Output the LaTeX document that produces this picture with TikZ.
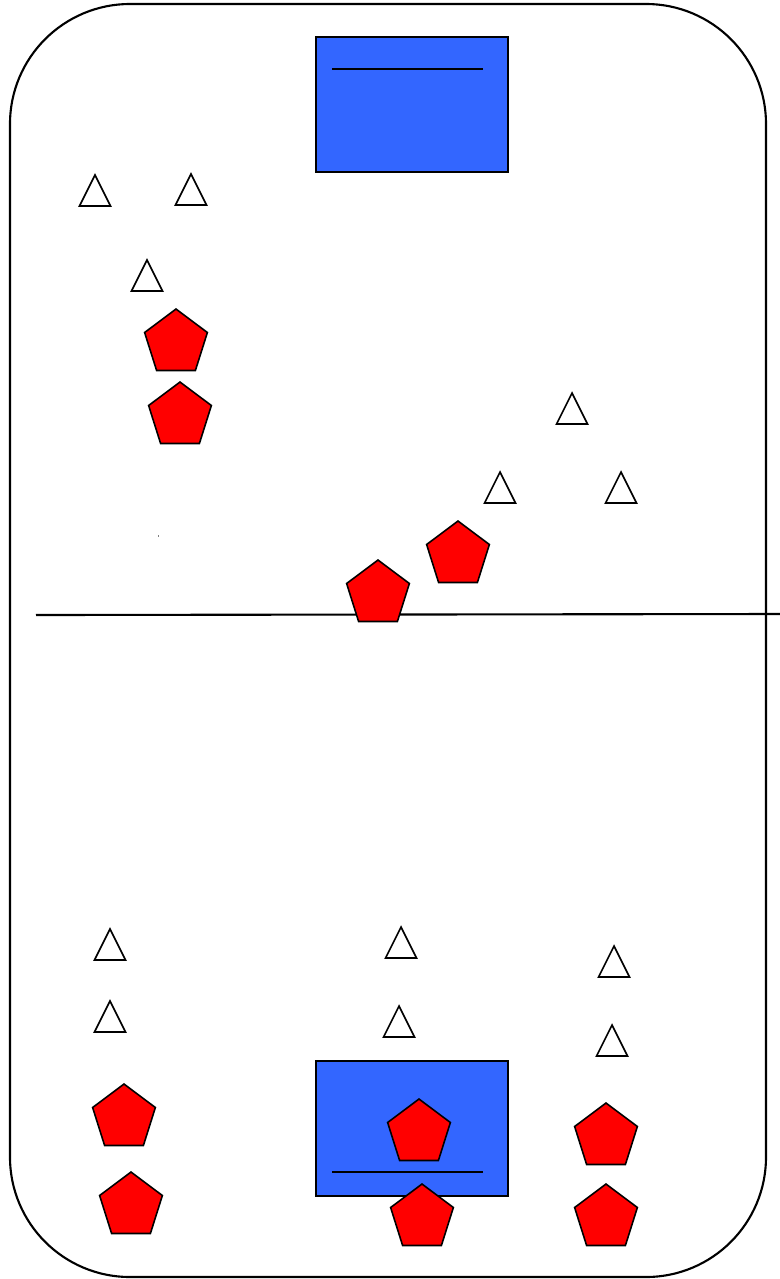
\documentclass[tikz,border=0pt]{standalone}
\usepackage{xcolor}
\usepackage{tikz}
\usetikzlibrary{shapes.geometric}

\definecolor{goalblue}{HTML}{3366FF}

\begin{document}
\begin{tikzpicture}[
    x=0.02cm, y=-0.02cm,
    rink/.style={draw, line width=1.2pt, rounded corners=2.4cm},
    goal/.style={draw, fill=goalblue, line width=1.2pt},
    player/.style={regular polygon, regular polygon sides=5, draw, fill=red,
                   minimum size=1.32cm, yscale=1.03, inner sep=0pt, line width=0.9pt},
    cone/.pic={\draw[line width=0.9pt, fill=white] (-15.5,0) -- (0,-31) -- (15.5,0) -- cycle;}
]
\useasboundingbox (0,0) rectangle (780,1279);

% rink and centre line
\draw[rink] (10,4) rectangle (766,1277);
\draw[line width=1.2pt] (36,615) -- (780,614);
\fill[gray] (157.5,535) rectangle (158.5,537);

% goals
\draw[goal] (316,37) rectangle (508,172);
\draw[line width=1pt] (332,69) -- (483,69);
\draw[goal] (316,1061) rectangle (508,1196);
\draw[line width=1pt] (332,1172) -- (483,1172);

% cones
\pic (c1) at (95,206) {cone};
\pic (c2) at (191,205) {cone};
\pic (c3) at (147,291) {cone};
\pic (c4) at (572,424) {cone};
\pic (c5) at (500,503) {cone};
\pic (c6) at (621,503) {cone};
\pic (c7) at (110,960) {cone};
\pic (c8) at (110,1032) {cone};
\pic (c9) at (401,958) {cone};
\pic (c10) at (399,1037) {cone};
\pic (c11) at (614,977) {cone};
\pic (c12) at (612,1056) {cone};

% players
\node[player] (p1) at (176,343) {};
\node[player] (p2) at (180,416) {};
\node[player] (p3) at (458,555) {};
\node[player] (p4) at (378,594) {};
\node[player] (p5) at (124,1118) {};
\node[player] (p6) at (131,1206) {};
\node[player] (p7) at (419,1133) {};
\node[player] (p8) at (422,1218) {};
\node[player] (p9) at (606,1137) {};
\node[player] (p10) at (606,1218) {};
\end{tikzpicture}
\end{document}
